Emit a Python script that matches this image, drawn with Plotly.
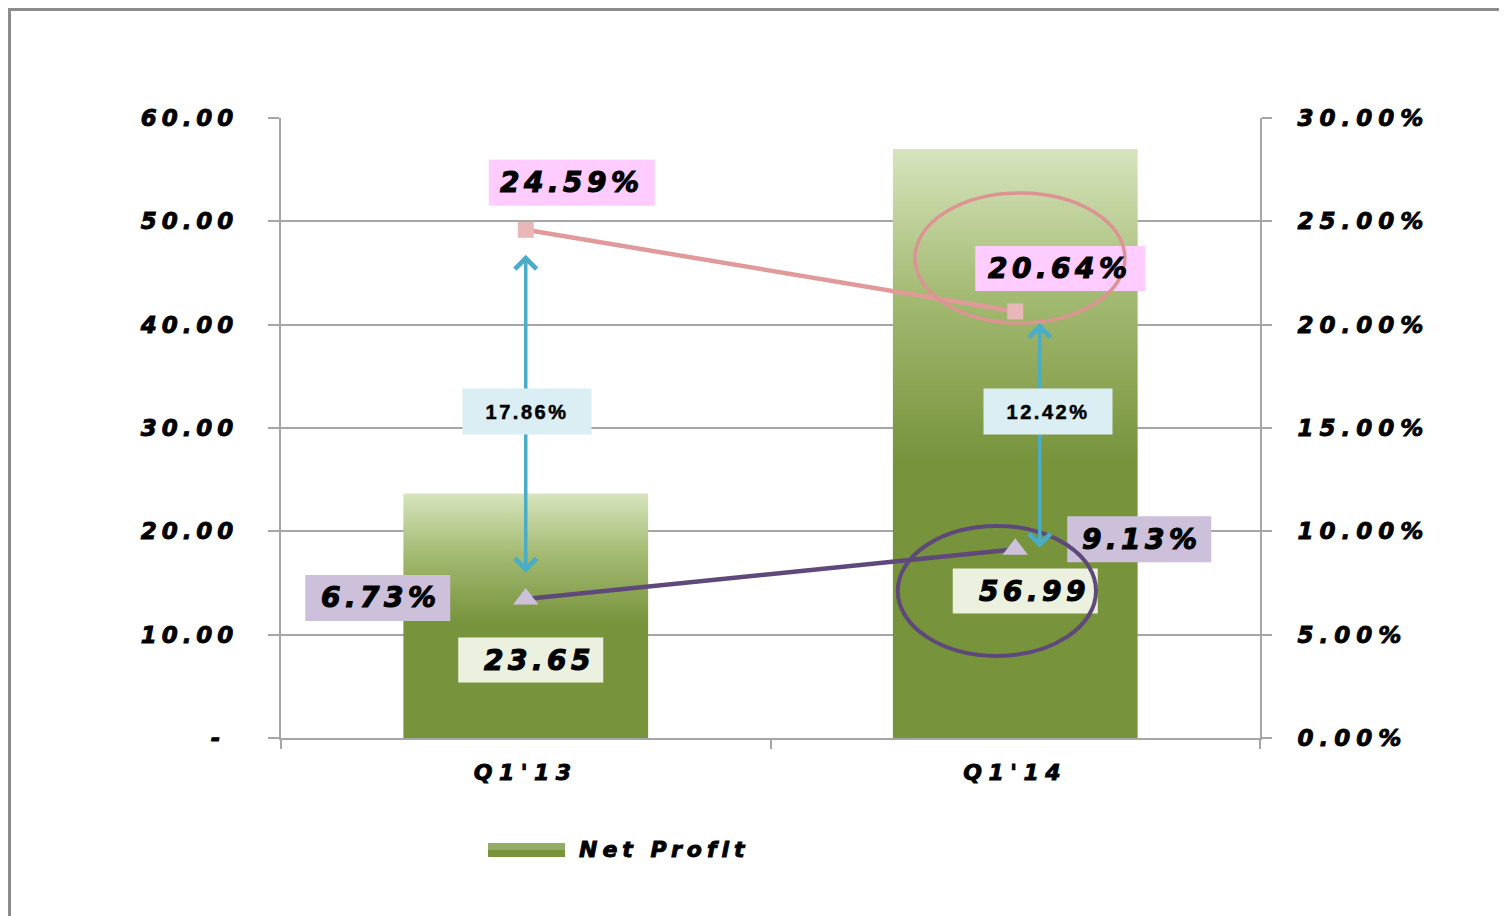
import plotly.graph_objects as go

# values
categories = ["Q1'13", "Q1'14"]
net_profit = [23.65, 56.99]
rate_high = [24.59, 20.64]
rate_low = [6.73, 9.13]
gap_labels = ["17.86%", "12.42%"]
# ends of the double arrows, in % on the right axis
gap_top = [23.45, 20.15]
gap_bottom = [8.0, 9.2]
gap_x = [0, 1.05]

left_ticks = [0, 10, 20, 30, 40, 50, 60]
left_tick_text = ["-\u00a0", "10.00", "20.00", "30.00", "40.00", "50.00", "60.00"]
right_ticks = [0, 5, 10, 15, 20, 25, 30]
right_tick_text = ["0.00%", "5.00%", "10.00%", "15.00%", "20.00%", "25.00%", "30.00%"]

# the page has an 8px body margin; positions below are page pixels
OFF = 8
W, H = 1507, 916
PLOT_L, PLOT_R, PLOT_T, PLOT_B = 281, 1260, 118, 738

FONT = "DejaVu Sans"
GRID = "#A6A6A6"
DARK_GREEN = "#77933C"
LIGHT_GREEN = "#D7E4BD"
PINK = "#E09A9A"
PURPLE = "#5F497A"


def px(x):
    return (x - PLOT_L) / (PLOT_R - PLOT_L)


def py(y):
    return (PLOT_B - y) / (PLOT_B - PLOT_T)


def wide(text, spacing=4, stroke=0.9):
    return (
        f'<span style="letter-spacing:{spacing}px;stroke:black;'
        f'stroke-width:{stroke}px">{text}</span>'
    )


def bold_italic(size):
    return dict(family=FONT, size=size, color="black", weight="bold", style="italic")


fig = go.Figure()

# bars with a vertical gradient, drawn as filled polygons on a numeric x axis
for i, v in enumerate(net_profit):
    fig.add_trace(
        go.Scatter(
            x=[i - 0.25, i + 0.25, i + 0.25, i - 0.25, i - 0.25],
            y=[0, 0, v, v, 0],
            fill="toself",
            mode="none",
            fillgradient=dict(
                type="vertical",
                colorscale=[
                    [0, DARK_GREEN],
                    [0.47, DARK_GREEN],
                    [0.75, "#A3BA72"],
                    [1, LIGHT_GREEN],
                ],
            ),
            showlegend=False,
            hoverinfo="skip",
        )
    )

x_idx = list(range(len(categories)))

fig.add_trace(
    go.Scatter(
        x=x_idx,
        y=rate_high,
        yaxis="y2",
        mode="lines+markers",
        line=dict(color=PINK, width=4.5),
        marker=dict(symbol="square", size=16, color="#E8B7B7"),
        showlegend=False,
        hoverinfo="skip",
    )
)
fig.add_trace(
    go.Scatter(
        x=x_idx,
        y=rate_low,
        yaxis="y2",
        mode="lines+markers",
        line=dict(color=PURPLE, width=4.5),
        marker=dict(symbol="triangle-up", size=22, color="#CCC0DA"),
        showlegend=False,
        hoverinfo="skip",
    )
)

annotations = []
shapes = [
    # outer frame (top and left edges only are visible)
    dict(type="line", xref="paper", yref="paper", x0=px(8), x1=px(W + 5), y0=py(9.5), y1=py(9.5),
         line=dict(color="#8C8C8C", width=3)),
    dict(type="line", xref="paper", yref="paper", x0=px(9.5), x1=px(9.5), y0=py(8), y1=py(H + 5),
         line=dict(color="#8C8C8C", width=3)),
    # legend swatch
    dict(type="rect", xref="paper", yref="paper", x0=px(488), x1=px(565), y0=py(843), y1=py(850),
         fillcolor="#93AC61", line=dict(width=0)),
    dict(type="rect", xref="paper", yref="paper", x0=px(488), x1=px(565), y0=py(850), y1=py(857),
         fillcolor=DARK_GREEN, line=dict(width=0)),
]


def value_label(xv, yv, yref, dx, dy, w, h, fill, text, text_dx=0):
    # box as a pixel-sized shape anchored on the data point, text on top
    shapes.append(
        dict(
            type="rect", layer="above",
            xref="x", xsizemode="pixel", xanchor=xv, x0=dx - w / 2, x1=dx + w / 2,
            yref=yref, ysizemode="pixel", yanchor=yv, y0=dy - h / 2, y1=dy + h / 2,
            fillcolor=fill, line=dict(width=0),
        )
    )
    annotations.append(
        dict(
            x=xv, y=yv, xref="x", yref=yref, xshift=dx + text_dx, yshift=dy,
            text=wide(text, 4.5, 1.1), showarrow=False, font=bold_italic(28),
        )
    )


# rate labels
high_shift = [(46, 47), (45, 43)]
high_box = [(166, 46), (170, 45)]
for i, v in enumerate(rate_high):
    value_label(i, v, "y2", *high_shift[i], *high_box[i], "#FFCCFF", f"{v:.2f}%")

low_shift = [(-148, 1), (124, 10)]
low_box = [(145, 46), (144, 46)]
for i, v in enumerate(rate_low):
    value_label(i, v, "y2", *low_shift[i], *low_box[i], "#CCC0DA", f"{v:.2f}%", 3)

# net profit value labels, measured up from the axis base
profit_shift = [(5, 78), (10, 147)]
for i, v in enumerate(net_profit):
    value_label(i, 0, "y", *profit_shift[i], 145, 45, "#EBF1DE", f"{v:.2f}", 9)

# highlight ellipses, over the label boxes
shapes += [
    dict(type="circle", xref="x", yref="y", x0=0.795, x1=1.224, y0=40.16, y1=52.74,
         line=dict(color="#DC9493", width=3.5), layer="above"),
    dict(type="circle", xref="x", yref="y", x0=0.760, x1=1.165, y0=7.94, y1=20.52,
         line=dict(color=PURPLE, width=4), layer="above"),
]

# double-headed arrows between the two rates
for i in range(len(categories)):
    annotations.append(
        dict(
            x=gap_x[i], y=gap_bottom[i], xref="x", yref="y2",
            ax=gap_x[i], ay=gap_top[i], axref="x", ayref="y2",
            text="", showarrow=True, arrowside="end+start",
            arrowhead=4, startarrowhead=4, arrowsize=1.2, startarrowsize=1.2,
            arrowwidth=3.5, arrowcolor="#4BACC6", standoff=0, startstandoff=0,
        )
    )

# gap labels, drawn over the arrows
gap_shift = [1, 8]
for i, lab in enumerate(gap_labels):
    annotations.append(
        dict(
            x=gap_x[i], y=31.55, xref="x", yref="y", xshift=gap_shift[i],
            text=wide(lab, 2.5, 0.5), showarrow=False,
            font=dict(family="Liberation Sans", size=20, color="black", weight="bold"),
            bgcolor="#DAEEF3", width=128, height=45, borderpad=0,
        )
    )

# legend text
annotations.append(
    dict(
        x=px(577), y=py(849), xref="paper", yref="paper",
        xanchor="left", yanchor="middle", showarrow=False,
        text=wide("Net Profit", 5), font=bold_italic(22),
    )
)

fig.update_layout(
    width=W - OFF,
    height=H - OFF,
    margin=dict(l=PLOT_L - OFF, r=W - PLOT_R, t=PLOT_T - OFF, b=H - PLOT_B),
    paper_bgcolor="white",
    plot_bgcolor="white",
    showlegend=False,
    annotations=annotations,
    shapes=shapes,
    xaxis=dict(
        range=[-0.5, 1.5],
        tickmode="array",
        tickvals=x_idx,
        ticktext=[wide(c, 6.5) for c in categories],
        ticks="",
        tickfont=bold_italic(22),
        ticklabelstandoff=14,
        showline=True,
        linecolor=GRID,
        linewidth=2,
        showgrid=False,
        zeroline=False,
        minor=dict(
            tickmode="array",
            tickvals=[-0.5, 0.5, 1.5],
            ticks="outside",
            ticklen=9,
            tickwidth=2,
            tickcolor=GRID,
            showgrid=False,
        ),
    ),
    yaxis=dict(
        range=[0, 60],
        tickmode="array",
        tickvals=left_ticks,
        ticktext=[wide(t, 5) for t in left_tick_text],
        ticks="outside",
        ticklen=11,
        tickwidth=2,
        tickcolor=GRID,
        tickfont=bold_italic(23),
        ticklabelstandoff=25,
        showline=True,
        linecolor=GRID,
        linewidth=2,
        showgrid=True,
        gridcolor=GRID,
        gridwidth=2,
        zeroline=False,
    ),
    yaxis2=dict(
        range=[0, 30],
        overlaying="y",
        side="right",
        tickmode="array",
        tickvals=right_ticks,
        ticktext=[wide(t, 6) for t in right_tick_text],
        ticks="outside",
        ticklen=10,
        tickwidth=2,
        tickcolor=GRID,
        tickfont=bold_italic(23),
        ticklabelstandoff=21,
        showline=True,
        linecolor=GRID,
        linewidth=2,
        showgrid=False,
        zeroline=False,
    ),
)

fig.write_html("out.html")
